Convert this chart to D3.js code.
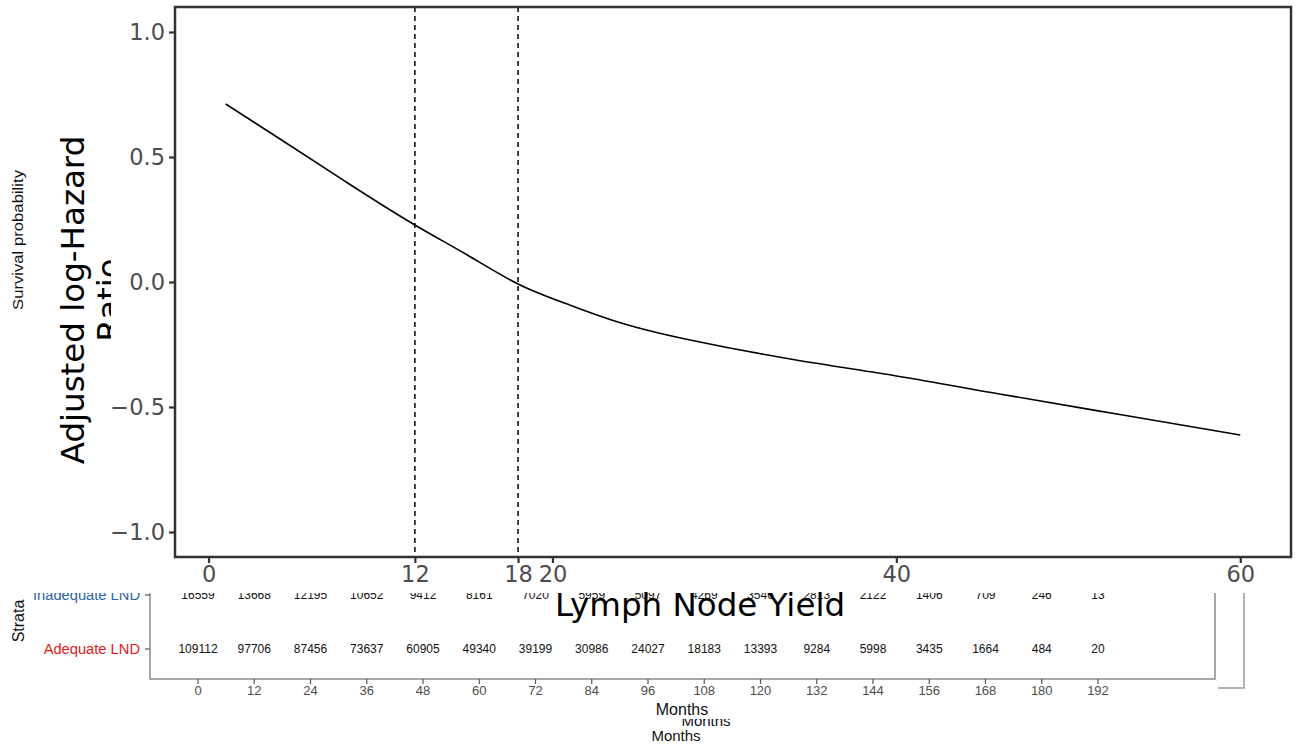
<!DOCTYPE html>
<html>
<head>
<meta charset="utf-8">
<script src="https://cdn.jsdelivr.net/npm/d3@7"></script>
<style>
  body { margin: 0; background: #fff; }
  svg { display: block; }
</style>
</head>
<body>
<div id="chart"></div>
<script>
// spline estimate
const yieldX = [1, 4, 8, 12, 15, 18, 21, 24, 28, 34, 40, 46, 53, 60];
const logHR = [0.712, 0.579, 0.40, 0.228, 0.11, -0.008, -0.092, -0.164, -0.232, -0.31, -0.376, -0.448, -0.53, -0.612];
const cutoffs = [12, 18];
const xTicks = [0, 12, 18, 20, 40, 60];
const yTicks = [-1, -0.5, 0, 0.5, 1];

// number-at-risk table underneath
const strata = ["Inadequate LND", "Adequate LND"];
const strataColors = ["#2F63A6", "#E31A1C"];
const months = [0, 12, 24, 36, 48, 60, 72, 84, 96, 108, 120, 132, 144, 156, 168, 180, 192];
const atRiskInadequate = [16559, 13668, 12195, 10652, 9412, 8161, 7020, 5959, 5097, 4269, 3546, 2813, 2122, 1406, 709, 246, 13];
const atRiskAdequate = [109112, 97706, 87456, 73637, 60905, 49340, 39199, 30986, 24027, 18183, 13393, 9284, 5998, 3435, 1664, 484, 20];

const W = 1298, H = 745;
const svg = d3.select("#chart").append("svg")
    .attr("width", W)
    .attr("height", H);

const defs = svg.append("defs");
defs.append("clipPath").attr("id", "clip-months2")
    .append("rect").attr("x", 0).attr("y", 719).attr("width", W).attr("height", 40);
defs.append("clipPath").attr("id", "clip-ratio")
    .append("rect").attr("x", 0).attr("y", 0).attr("width", 111).attr("height", H);

const sans = "'Liberation Sans', Arial, sans-serif";
const dv = "'DejaVu Sans', sans-serif";

// ---- bottom layers: stray "Months" labels
svg.append("text")
    .attr("x", 676).attr("y", 741)
    .attr("text-anchor", "middle")
    .attr("font-family", sans).attr("font-size", 15)
    .attr("fill", "#111")
    .text("Months");
svg.append("text")
    .attr("x", 706).attr("y", 726)
    .attr("text-anchor", "middle")
    .attr("clip-path", "url(#clip-months2)")
    .attr("font-family", sans).attr("font-size", 15)
    .attr("fill", "#111")
    .text("Months");

// ---- risk table
const tbl = svg.append("g");
const mx = d3.scaleLinear().domain([0, 192]).range([198, 1098]);
const rowY = d3.scalePoint().domain(strata).range([595, 649]);

tbl.append("path")
    .attr("d", `M150,590 V679 H1215 V590`)
    .attr("fill", "none")
    .attr("stroke", "#8c8c8c")
    .attr("stroke-width", 1.5);
tbl.append("path")
    .attr("d", `M1244,590 V688 H1218`)
    .attr("fill", "none")
    .attr("stroke", "#9a9a9a")
    .attr("stroke-width", 1.5);

tbl.selectAll(".mtick")
    .data(months)
    .join("line")
    .attr("x1", d => mx(d)).attr("x2", d => mx(d))
    .attr("y1", 679).attr("y2", 684)
    .attr("stroke", "#555").attr("stroke-width", 1.2);
tbl.selectAll(".mlab")
    .data(months)
    .join("text")
    .attr("x", d => mx(d)).attr("y", 695)
    .attr("text-anchor", "middle")
    .attr("font-family", sans).attr("font-size", 13)
    .attr("fill", "#4d4d4d")
    .text(d => d);

[atRiskInadequate, atRiskAdequate].forEach((vals, i) => {
    tbl.selectAll(".n" + i)
        .data(vals)
        .join("text")
        .attr("x", (d, j) => mx(months[j]))
        .attr("y", rowY(strata[i]) + 4)
        .attr("text-anchor", "middle")
        .attr("font-family", sans).attr("font-size", 12)
        .attr("fill", "#111")
        .text(d => d);
});

tbl.selectAll(".slab")
    .data(strata)
    .join("text")
    .attr("x", 140).attr("y", d => rowY(d) + 5)
    .attr("text-anchor", "end")
    .attr("font-family", sans).attr("font-size", 14.7)
    .attr("fill", (d, i) => strataColors[i])
    .text(d => d);
tbl.selectAll(".stick")
    .data(strata)
    .join("line")
    .attr("x1", 145).attr("x2", 150)
    .attr("y1", d => rowY(d)).attr("y2", d => rowY(d))
    .attr("stroke", "#555").attr("stroke-width", 1.2);

tbl.append("text")
    .attr("transform", "translate(24,621) rotate(-90)")
    .attr("text-anchor", "middle")
    .attr("font-family", sans).attr("font-size", 16)
    .attr("fill", "#111")
    .text("Strata");

tbl.append("text")
    .attr("x", 682).attr("y", 715)
    .attr("text-anchor", "middle")
    .attr("font-family", sans).attr("font-size", 16)
    .attr("fill", "#111")
    .text("Months");

// ---- main spline chart, white backing over the table top
svg.append("rect")
    .attr("x", 30).attr("y", 0)
    .attr("width", W - 30).attr("height", 593)
    .attr("fill", "#fff");

svg.append("text")
    .attr("transform", "translate(23,240) rotate(-90)")
    .attr("text-anchor", "middle")
    .attr("font-family", sans).attr("font-size", 14)
    .attr("textLength", 140).attr("lengthAdjust", "spacingAndGlyphs")
    .attr("fill", "#111")
    .text("Survival probability");

const x = d3.scaleLinear().domain([-1.95, 62.95]).range([175, 1291]);
const y = d3.scaleLinear().domain([-1.1, 1.1]).range([557, 7]);

const plot = svg.append("g");

plot.selectAll(".cut")
    .data(cutoffs)
    .join("line")
    .attr("x1", d => x(d)).attr("x2", d => x(d))
    .attr("y1", y(1.1)).attr("y2", y(-1.1))
    .attr("stroke", "#000")
    .attr("stroke-width", 1.5)
    .attr("stroke-dasharray", "5,4");

const line = d3.line()
    .x((d, i) => x(yieldX[i]))
    .y(d => y(d))
    .curve(d3.curveNatural);
plot.append("path")
    .datum(logHR)
    .attr("d", line)
    .attr("fill", "none")
    .attr("stroke", "#000")
    .attr("stroke-width", 1.6);

plot.append("rect")
    .attr("x", 175).attr("y", 7)
    .attr("width", 1291 - 175).attr("height", 557 - 7)
    .attr("fill", "none")
    .attr("stroke", "#333")
    .attr("stroke-width", 2.5);

const xAxis = plot.append("g")
    .attr("transform", "translate(0,557)")
    .call(d3.axisBottom(x).tickValues(xTicks).tickSize(6).tickPadding(3));
const yAxis = plot.append("g")
    .attr("transform", "translate(175,0)")
    .call(d3.axisLeft(y).tickValues(yTicks).tickSize(6).tickPadding(4)
        .tickFormat(d => d3.format(".1f")(d).replace("-", "\u2212")));
[xAxis, yAxis].forEach(a => {
    a.select(".domain").remove();
    a.selectAll("line").attr("stroke", "#333").attr("stroke-width", 2.2);
    a.selectAll("text")
        .attr("font-family", dv).attr("font-size", 22.5)
        .attr("fill", "#4d4d4d");
});

svg.append("text")
    .attr("x", 700).attr("y", 616)
    .attr("text-anchor", "middle")
    .attr("font-family", dv).attr("font-size", 32.5)
    .attr("fill", "#000")
    .text("Lymph Node Yield");

svg.append("text")
    .attr("transform", "translate(84,300) rotate(-90)")
    .attr("text-anchor", "middle")
    .attr("font-family", dv).attr("font-size", 32.5)
    .attr("fill", "#000")
    .text("Adjusted log-Hazard");

svg.append("g").attr("clip-path", "url(#clip-ratio)")
    .append("text")
    .attr("transform", "translate(120,300) rotate(-90)")
    .attr("text-anchor", "middle")
    .attr("font-family", dv).attr("font-size", 32.5)
    .attr("fill", "#000")
    .text("Ratio");
</script>
</body>
</html>
